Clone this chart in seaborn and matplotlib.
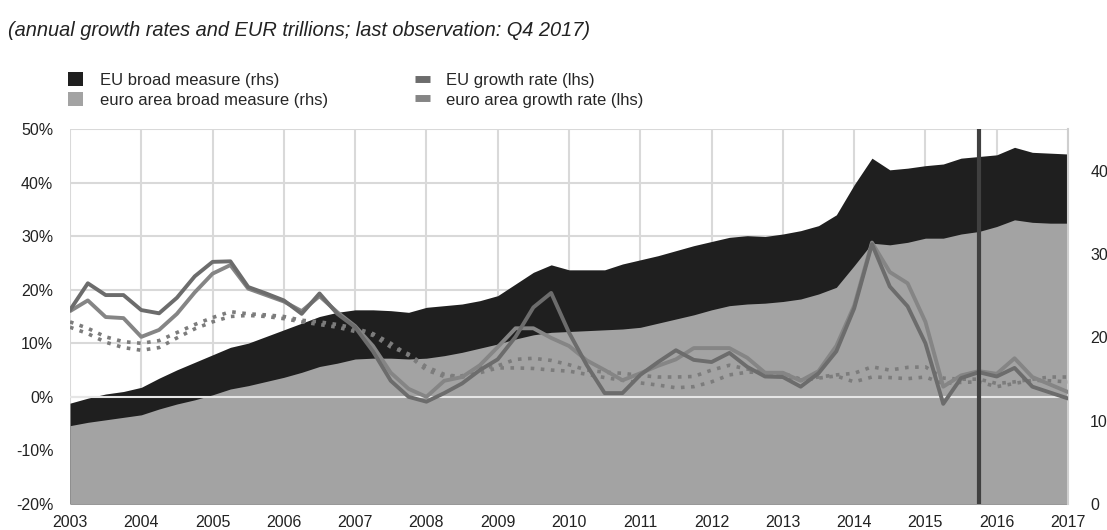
import numpy as np
import pandas as pd
import matplotlib
matplotlib.use("Agg")
import matplotlib.pyplot as plt
import seaborn as sns
from matplotlib.patches import Patch
from matplotlib.lines import Line2D

# quarterly observations, 2003 Q1 .. 2017 Q1 on the axis
quarters = pd.period_range("2003Q1", "2017Q1", freq="Q")
year_labels = list(range(2003, 2018))

# broad measures, EUR trillions (rhs)
eu_broad = [12.1, 12.7, 13.2, 13.5, 14.0, 15.1, 16.1, 17.0, 17.9, 18.8,
            19.3, 20.1, 20.9, 21.7, 22.5, 23.0, 23.3, 23.3, 23.2, 23.0,
            23.6, 23.8, 24.0, 24.4, 25.0, 26.4, 27.8, 28.7, 28.1, 28.1,
            28.1, 28.8, 29.3, 29.8, 30.4, 31.0, 31.5, 32.0, 32.2, 32.1,
            32.4, 32.8, 33.4, 34.7, 38.3, 41.5, 40.1, 40.3, 40.6, 40.8,
            41.5, 41.7, 41.9, 42.8, 42.2, 42.1, 42.0]
ea_broad = [9.4, 9.8, 10.1, 10.4, 10.7, 11.4, 12.0, 12.5, 13.1, 13.8,
            14.2, 14.7, 15.2, 15.8, 16.5, 16.9, 17.4, 17.5, 17.5, 17.4,
            17.5, 17.8, 18.2, 18.7, 19.2, 19.8, 20.3, 20.6, 20.7, 20.8,
            20.9, 21.0, 21.2, 21.7, 22.2, 22.7, 23.3, 23.8, 24.0, 24.1,
            24.3, 24.6, 25.2, 26.0, 28.6, 31.3, 31.1, 31.4, 31.9, 31.9,
            32.4, 32.7, 33.3, 34.1, 33.8, 33.7, 33.7]

# growth rates, % (lhs)
eu_growth = [16.2, 21.2, 19.0, 19.0, 16.2, 15.6, 18.5, 22.5, 25.2, 25.3,
             20.5, 19.3, 18.0, 15.5, 19.3, 15.5, 13.0, 8.5, 3.0, 0.0,
             -0.9, 0.7, 2.5, 5.0, 7.0, 11.2, 16.7, 19.4, 12.0, 5.9,
             0.7, 0.7, 4.1, 6.5, 8.7, 6.9, 6.5, 8.2, 5.6, 3.8,
             3.7, 1.9, 4.4, 8.5, 16.5, 28.5, 20.6, 16.9, 10.0, -1.3,
             3.5, 4.6, 3.8, 5.4, 1.9, 0.8, -0.3]
ea_growth = [16.0, 18.0, 14.9, 14.7, 11.2, 12.5, 15.5, 19.5, 23.0, 24.6,
             20.2, 19.0, 17.8, 16.0, 18.8, 15.8, 13.2, 9.5, 4.5, 1.5,
             0.0, 3.0, 3.7, 5.9, 9.3, 12.8, 12.8, 11.0, 9.5, 6.8,
             5.0, 3.1, 4.4, 5.8, 7.0, 9.1, 9.1, 9.1, 7.3, 4.5,
             4.5, 3.0, 4.8, 9.5, 17.0, 28.8, 23.3, 21.2, 14.0, 1.9,
             4.0, 4.8, 4.3, 7.2, 3.7, 2.3, 0.9]
# dotted series (not in legend)
dotted_1 = [14.0, 12.8, 11.2, 10.3, 10.0, 10.5, 12.0, 13.5, 14.8, 15.9,
            15.5, 15.3, 15.0, 14.3, 14.0, 13.5, 12.8, 11.8, 10.0, 7.7,
            5.0, 3.8, 3.9, 5.4, 5.8, 7.0, 7.2, 6.8, 6.0, 5.0,
            4.6, 4.4, 4.0, 3.7, 3.7, 3.8, 5.0, 5.9, 5.2, 4.5,
            4.4, 3.3, 3.7, 4.1, 4.4, 5.6, 5.0, 5.5, 5.6, 3.5,
            3.3, 3.3, 2.5, 2.8, 3.3, 3.7, 3.7]
dotted_2 = [13.0, 11.8, 10.2, 9.2, 8.7, 9.2, 11.0, 12.7, 14.0, 15.0,
            15.2, 15.0, 14.6, 14.0, 13.5, 13.0, 12.2, 11.5, 9.3, 8.0,
            5.6, 4.2, 3.7, 4.5, 5.4, 5.4, 5.3, 5.0, 4.8, 4.2,
            3.6, 3.1, 2.6, 2.2, 1.7, 1.9, 2.8, 4.1, 4.6, 4.6,
            4.0, 3.1, 3.5, 3.9, 2.8, 3.7, 3.6, 3.4, 3.7, 2.5,
            2.7, 2.8, 1.9, 2.5, 3.1, 3.0, 2.8]

marker_line = 2015.75

t = quarters.year + (quarters.quarter - 1) / 4
df = pd.DataFrame({"t": t, "eu_broad": eu_broad, "ea_broad": ea_broad,
                   "eu_growth": eu_growth, "ea_growth": ea_growth,
                   "d1": dotted_1, "d2": dotted_2})

sns.set_theme(style="white")
plt.rcParams["font.family"] = ["Liberation Sans", "DejaVu Sans"]

C_BLACK = "#1f1f1f"
C_GREY_AREA = "#a3a3a3"
C_EU = "#6c6c6c"
C_EA = "#858585"
C_DOT = "#7c7c7c"
C_GRID = "#d9d9d9"

fig = plt.figure(figsize=(11.07, 5.30), dpi=100)
rect = [70 / 1107, 1 - 504 / 530, 998 / 1107, 375 / 530]

# grid axis (left scale)
ax = fig.add_axes(rect)
ax.set_xlim(2003, 2017)
ax.set_ylim(-20, 50)
ax.set_yticks(range(-20, 51, 10))
ax.set_yticklabels([f"{v}%" for v in range(-20, 51, 10)])
ax.set_xticks(year_labels)
ax.set_xticklabels([str(y) for y in year_labels])
ax.grid(True, color=C_GRID, lw=1.5)
ax.tick_params(axis="both", length=0, labelsize=11.5, colors="#222222")
ax.tick_params(axis="y", pad=12)
ax.tick_params(axis="x", pad=8)
for s in ax.spines.values():
    s.set_visible(False)

# areas (right scale)
ax_r = ax.twinx()
ax_r.fill_between(df["t"], 0, df["eu_broad"], color=C_BLACK, lw=0)
ax_r.fill_between(df["t"], 0, df["ea_broad"], color=C_GREY_AREA, lw=0)
ax_r.set_xlim(2003, 2017)
ax_r.set_ylim(0, 45)
ax_r.set_yticks(range(0, 41, 10))
ax_r.tick_params(axis="y", length=0, labelsize=11.5, colors="#222222", pad=16)
for k, s in ax_r.spines.items():
    s.set_visible(k == "right")
ax_r.spines["right"].set_color("#cfcfcf")
ax_r.spines["right"].set_linewidth(1.5)

# lines (left scale)
ax_l = ax.twinx()
ax_l.set_xlim(2003, 2017)
ax_l.set_ylim(-20, 50)
ax_l.set_yticks([])
for s in ax_l.spines.values():
    s.set_visible(False)
ax_l.axhline(0, color="#e6e6e6", lw=1.5, zorder=1)

for col in ["d1", "d2"]:
    sns.lineplot(data=df, x="t", y=col, ax=ax_l, color=C_DOT, lw=2.6,
                 linestyle=(0, (1, 1.8)), legend=False, zorder=2)
sns.lineplot(data=df, x="t", y="ea_growth", ax=ax_l, color=C_EA, lw=2.8,
             legend=False, zorder=3)
sns.lineplot(data=df, x="t", y="eu_growth", ax=ax_l, color=C_EU, lw=2.8,
             legend=False, zorder=3)
ax_l.axvline(marker_line, color="#404040", lw=3, zorder=4)
ax_l.set_xlabel("")
ax_l.set_ylabel("")
ax_r.set_ylabel("")

handles = [
    Patch(facecolor=C_BLACK, edgecolor="none", label="EU broad measure (rhs)"),
    Patch(facecolor=C_GREY_AREA, edgecolor="none", label="euro area broad measure (rhs)"),
    Line2D([0], [0], color=C_EU, lw=5, solid_capstyle="butt", label="EU growth rate (lhs)"),
    Line2D([0], [0], color=C_EA, lw=5, solid_capstyle="butt", label="euro area growth rate (lhs)"),
]
fig.legend(handles=handles, loc="upper left", bbox_to_anchor=(60 / 1107, 1 - 64 / 530),
           ncol=2, frameon=False, fontsize=12.0, borderpad=0, handlelength=0.9,
           handleheight=0.9, handletextpad=1.0, labelspacing=0.25, columnspacing=5.2)

fig.text(8 / 1107, 1 - 30 / 530,
         "(annual growth rates and EUR trillions; last observation: Q4 2017)",
         style="italic", fontsize=14.4, va="center", ha="left", color="#222222")

fig.savefig("out.png", dpi=100)
